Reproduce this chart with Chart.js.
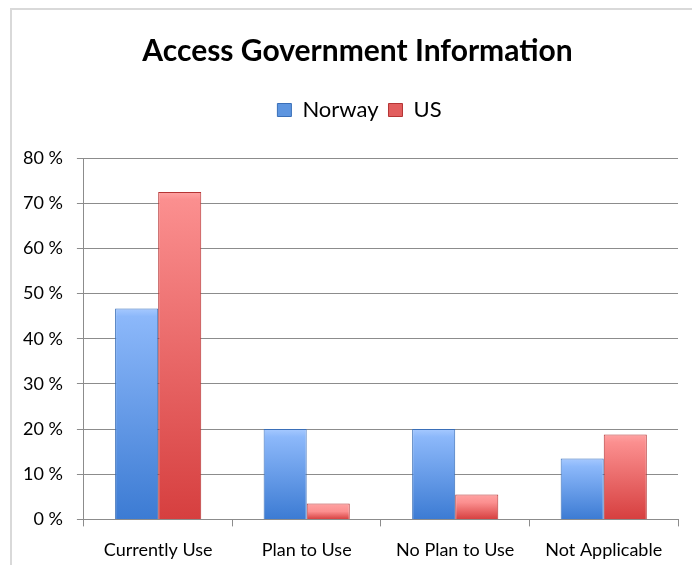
<!DOCTYPE html>
<html>
<head>
<meta charset="utf-8">
<script src="https://cdn.jsdelivr.net/npm/chart.js@4"></script>
<style>
  html, body { margin: 0; padding: 0; background: #fff; }
  #wrap { width: 692px; height: 565px; position: relative; }
</style>
</head>
<body>
<div id="wrap"><canvas id="c" width="692" height="565"></canvas></div>
<script>
const categories = ["Currently Use", "Plan to Use", "No Plan to Use", "Not Applicable"];
const norway = [46.7, 20.0, 20.0, 13.5];
const us = [72.5, 3.5, 5.5, 18.8];
const yTicks = [0, 10, 20, 30, 40, 50, 60, 70, 80];

const FONT = "Lato, 'Open Sans', sans-serif";

function barGradient(light, mid, dark, solid) {
  return function(ctx) {
    const chart = ctx.chart;
    if (!chart.chartArea || ctx.raw === undefined) return solid;
    const y = chart.scales.y;
    const top = y.getPixelForValue(ctx.raw);
    const bottom = y.getPixelForValue(0);
    if (!isFinite(top) || !isFinite(bottom) || bottom - top < 1) return solid;
    const g = chart.ctx.createLinearGradient(0, top, 0, bottom);
    g.addColorStop(0, light);
    g.addColorStop(Math.min(0.5, 8 / (bottom - top)), mid);
    g.addColorStop(1, dark);
    return g;
  };
}

const framePlugin = {
  id: 'frame',
  beforeDraw(chart) {
    const c = chart.ctx;
    c.save();
    c.fillStyle = '#fff';
    c.fillRect(0, 0, chart.width, chart.height);
    c.strokeStyle = '#d9d9d9';
    c.lineWidth = 2;
    c.beginPath();
    c.moveTo(11, chart.height);
    c.lineTo(11, 9);
    c.lineTo(chart.width, 9);
    c.stroke();
    c.restore();
  }
};

const legendGap = {
  id: 'legendGap',
  beforeInit(chart) {
    if (!chart.legend) return;
    const origFit = chart.legend.fit;
    chart.legend.fit = function() {
      origFit.bind(chart.legend)();
      this.height += 27;
    };
  },
  afterLayout(chart) {
    // The original title/legend are centred on a slightly wider frame
    if (chart.titleBlock) { chart.titleBlock.left += 28; }
    if (chart.legend) { chart.legend.left += 32; }
  }
};

new Chart(document.getElementById('c'), {
  type: 'bar',
  data: {
    labels: categories,
    datasets: [
      {
        label: 'Norway',
        data: norway,
        backgroundColor: barGradient('#a6c9ff', '#8cb8fa', '#3c7bd3', '#5b93e0'),
        borderColor: '#3a6fb8',
        borderWidth: 1,
        categoryPercentage: 0.58,
        barPercentage: 1.0
      },
      {
        label: 'US',
        data: us,
        backgroundColor: barGradient('#ffa3a3', '#fb8f8f', '#d63f3f', '#e25a5a'),
        borderColor: '#b53535',
        borderWidth: 1,
        categoryPercentage: 0.58,
        barPercentage: 1.0
      }
    ]
  },
  options: {
    responsive: false,
    animation: false,
    devicePixelRatio: 1,
    layout: { padding: { left: 9, right: 14, top: 28, bottom: 0 } },
    plugins: {
      title: {
        display: true,
        text: 'Access Government Information',
        color: '#000',
        font: { family: FONT, size: 30, weight: 'bold' },
        padding: { top: 5, bottom: 20 }
      },
      legend: {
        display: true,
        position: 'top',
        labels: {
          color: '#000',
          font: { family: FONT, size: 22 },
          boxWidth: 14,
          boxHeight: 13,
          padding: 10,
          generateLabels(chart) {
            const cols = [['#5d95e0', '#3a6fb8'], ['#e25e5e', '#b53535']];
            return chart.data.datasets.map((ds, i) => ({
              text: ds.label,
              fillStyle: cols[i][0],
              strokeStyle: cols[i][1],
              lineWidth: 1,
              hidden: !chart.isDatasetVisible(i),
              datasetIndex: i,
              fontColor: '#000'
            }));
          }
        }
      },
      tooltip: { enabled: false }
    },
    scales: {
      x: {
        offset: true,
        afterFit(axis) { axis.height -= 9; },
        grid: {
          display: true,
          offset: true,
          drawOnChartArea: false,
          drawTicks: true,
          tickLength: 7,
          color: '#8c8c8c'
        },
        border: { display: true, color: '#8c8c8c', width: 1 },
        ticks: {
          color: '#000',
          font: { family: FONT, size: 18 },
          padding: 13,
          maxRotation: 0
        }
      },
      y: {
        min: 0,
        max: 80,
        afterBuildTicks(axis) { axis.ticks = yTicks.map(v => ({ value: v })); },
        grid: {
          color: '#8c8c8c',
          lineWidth: 1,
          drawTicks: true,
          tickLength: 7
        },
        border: { display: true, color: '#8c8c8c', width: 1 },
        ticks: {
          color: '#000',
          font: { family: FONT, size: 18 },
          padding: 14,
          callback: v => v + ' %'
        }
      }
    }
  },
  plugins: [framePlugin, legendGap]
});
</script>
</body>
</html>
